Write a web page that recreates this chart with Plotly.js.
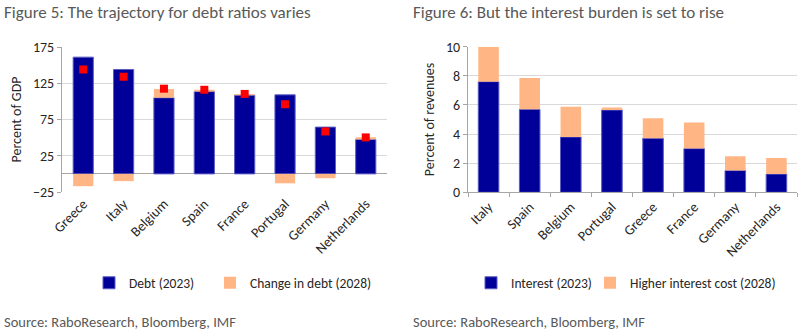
<!DOCTYPE html>
<html><head><meta charset="utf-8">
<script src="https://cdn.plot.ly/plotly-3.0.1.min.js"></script>
<style>html,body{margin:0;padding:0;background:#fff}#chart{width:800px;height:332px}</style>
</head><body><div id="chart"></div><script>
// Figure 5 data (percent of GDP)
const debtCountries = ['Greece','Italy','Belgium','Spain','France','Portugal','Germany','Netherlands'];
const debt2023 = [161, 144, 105, 113.5, 108.5, 109, 64.5, 47.5];
const debtChange2028 = [-17, -10, 12, 2.5, 1.5, -13, -6, 3];
const debt2028 = [144, 134, 117.5, 116, 110.3, 96, 58.5, 50.3];
// Figure 6 data (percent of revenues)
const interestCountries = ['Italy','Spain','Belgium','Portugal','Greece','France','Germany','Netherlands'];
const interest2023 = [7.6, 5.7, 3.8, 5.65, 3.72, 3.0, 1.5, 1.25];
const interestRise2028 = [2.4, 2.15, 2.07, 0.18, 1.37, 1.8, 0.98, 1.1];

const FONT = 'Carlito, Lato, "Open Sans", sans-serif';
const BLUE = '#000099', BLUE_EDGE = '#5c5cc4', ORANGE = '#FFB584', GRID = '#d9d9d9', AX = '#a6a6a6';
const W = 800, H = 332;
const px = v => v / W, py = v => 1 - v / H;

const traces = [
  {type:'bar', name:'Debt (2023)', x:debtCountries, y:debt2023, xaxis:'x', yaxis:'y', legend:'legend',
   marker:{color:BLUE, line:{color:BLUE_EDGE, width:1}}},
  {type:'bar', name:'Change in debt (2028)', x:debtCountries, y:debtChange2028, xaxis:'x', yaxis:'y', legend:'legend2',
   marker:{color:ORANGE, line:{width:0}}},
  {type:'scatter', mode:'markers', name:'Debt (2028)', x:debtCountries, y:debt2028, xaxis:'x', yaxis:'y',
   showlegend:false, marker:{symbol:'square', size:8, color:'#ff0000'}},
  {type:'bar', name:'Interest (2023)', x:interestCountries, y:interest2023, xaxis:'x2', yaxis:'y2', legend:'legend3',
   marker:{color:BLUE, line:{color:BLUE_EDGE, width:1}}},
  {type:'bar', name:'Higher interest cost (2028)', x:interestCountries, y:interestRise2028, xaxis:'x2', yaxis:'y2', legend:'legend4',
   marker:{color:ORANGE, line:{width:0}}}
];

const tickFont = {family:FONT, size:14, color:'#262626'};
const titleFont = {family:FONT, size:14, color:'#262626'};
const legFont = {family:FONT, size:13.5, color:'#262626'};
const leg = x => ({orientation:'h', x:px(x), y:py(283), xanchor:'left', yanchor:'middle',
                   font:legFont, bgcolor:'rgba(0,0,0,0)'});
const layout = {
  width:W, height:H, margin:{l:0,r:0,t:0,b:0},
  paper_bgcolor:'#fff', plot_bgcolor:'#fff',
  font:{family:FONT, color:'#404040'},
  barmode:'relative', bargap:0.5,
  xaxis:{domain:[px(62), px(387)], anchor:'y', type:'category', tickangle:-45, tickfont:tickFont,
         showline:false, ticks:'', showgrid:false},
  yaxis:{domain:[py(192), py(47)], anchor:'x', range:[-25,175], tickmode:'array', tickvals:[-25,25,75,125,175],
         showgrid:false, showline:true, linecolor:AX, linewidth:1, ticks:'outside', ticklen:4, tickcolor:AX,
         zeroline:true, zerolinecolor:AX, zerolinewidth:1, tickfont:tickFont,
         minor:{tickmode:'array', tickvals:[25,75,125,175], showgrid:true, gridcolor:GRID, gridwidth:1, ticks:''},
         title:{text:'Percent of GDP', font:titleFont, standoff:8}},
  xaxis2:{domain:[px(468), px(797)], anchor:'y2', type:'category', tickangle:-45, tickfont:tickFont,
          showline:true, linecolor:AX, ticks:'outside', tickson:'boundaries', ticklen:4, tickcolor:AX, showgrid:false},
  yaxis2:{domain:[py(192.3), py(46.7)], anchor:'x2', range:[0,10], dtick:2, showgrid:true, gridcolor:GRID,
          showline:true, linecolor:AX, ticks:'outside', ticklen:4, tickcolor:AX, zeroline:false, tickfont:tickFont,
          title:{text:'Percent of revenues', font:titleFont, standoff:8}},
  legend:leg(89), legend2:leg(210), legend3:leg(471), legend4:leg(590),
  annotations:[
    {text:'Figure 5: The trajectory for debt ratios varies', xref:'paper', yref:'paper', x:px(2), y:py(12),
     xanchor:'left', yanchor:'middle', showarrow:false, font:{family:FONT, size:17, color:'#595959'}},
    {text:'Figure 6: But the interest burden is set to rise', xref:'paper', yref:'paper', x:px(411), y:py(12),
     xanchor:'left', yanchor:'middle', showarrow:false, font:{family:FONT, size:17, color:'#595959'}},
    {text:'Source: RaboResearch, Bloomberg, IMF', xref:'paper', yref:'paper', x:px(2), y:py(322),
     xanchor:'left', yanchor:'middle', showarrow:false, font:{family:FONT, size:14.5, color:'#595959'}},
    {text:'Source: RaboResearch, Bloomberg, IMF', xref:'paper', yref:'paper', x:px(411), y:py(322),
     xanchor:'left', yanchor:'middle', showarrow:false, font:{family:FONT, size:14.5, color:'#595959'}}
  ],
  showlegend:true
};
Plotly.newPlot('chart', traces, layout, {displayModeBar:false, staticPlot:true});
</script></body></html>
